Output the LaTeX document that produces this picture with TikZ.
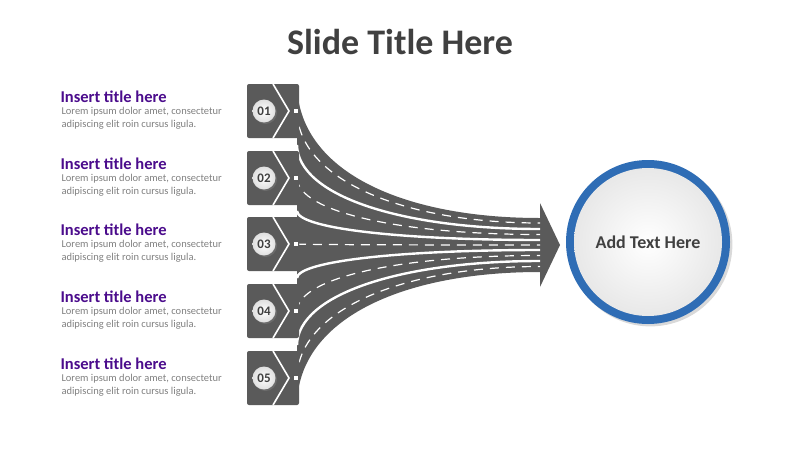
\documentclass[tikz,border=0pt]{standalone}
\usepackage{fontspec}
\setmainfont{Carlito}
\usetikzlibrary{shadows}
\definecolor{road}{HTML}{5A5A5A}
\definecolor{ink}{HTML}{404040}
\definecolor{grape}{HTML}{4B0C8C}
\definecolor{ringblue}{HTML}{2F6DB5}
\newcommand{\lanecurve}[2]{(297,#1) .. controls (298,{#1+0.6*(#2-#1)}) and (400,#2) .. (540,#2)}
\begin{document}
\begin{tikzpicture}[x=1pt,y=-1pt,
  sep/.style={white,line width=2.4pt},
  mid/.style={white,line width=1.2pt,dash pattern=on 9pt off 7pt},
  badge/.style={circle,minimum size=23pt,inner sep=0pt,shading=radial,inner color=white,outer color=gray!25,
    drop shadow={shadow xshift=1.5pt,shadow yshift=-1.5pt,opacity=.45},font=\bfseries\fontsize{13}{13}\selectfont,text=ink},
  head/.style={anchor=west,text=grape,font=\bfseries\fontsize{16.5}{16.5}\selectfont},
  body/.style={anchor=north west,text=gray,align=left,font=\fontsize{10.5}{12.5}\selectfont}]
  \useasboundingbox (0,0) rectangle (800,450);
  \node[text=ink,font=\bfseries\fontsize{36}{36}\selectfont] (title) at (400,42) {Slide Title Here};
  % the fan of roads
  \fill[road] (297,84) .. controls (298,170) and (400,218) .. (540,218) -- (540,272)
    .. controls (400,272) and (298,320) .. (297,405) -- cycle;
  \fill[road] (540,203) -- (560,245) -- (540,287) -- cycle;
  \draw[sep] \lanecurve{145}{229};
  \draw[sep] \lanecurve{211}{240};
  \draw[sep] \lanecurve{278}{250};
  \draw[sep] \lanecurve{345}{261};
  \foreach \c/\e in {111/223, 178/234.5, 244/245, 311/255.5, 378/266.5}
    \draw[mid] \lanecurve{\c}{\e};
  % boxes with badges and texts
  \foreach \c/\n in {111/01, 178/02, 244/03, 311/04, 378/05} {
    \fill[road, rounded corners=2pt] (247,\c-27) rectangle (299,\c+27);
    \draw[white,line width=1.6pt] (273,\c-27) -- (289,\c) -- (273,\c+27);
    \fill[white] (294,\c-2) rectangle (298,\c+2);
    \node[badge] (b\n) at (264,\c) {\n};
    \node[head] (h\n) at (57,\c-14) {Insert title here};
    \node[body] (t\n) at (58,\c-7) {Lorem ipsum dolor amet, consectetur\\adipiscing elit roin cursus ligula.};
  }
  % target circle
  \node[circle,fill=ringblue,minimum size=164pt,drop shadow={opacity=.3}] (ring) at (648,242) {};
  \node[circle,shading=radial,inner color=white,outer color=gray!18,minimum size=148pt,
    text=ink,font=\bfseries\fontsize{18}{18}\selectfont] (goal) at (ring) {Add Text Here};
\end{tikzpicture}
\end{document}
